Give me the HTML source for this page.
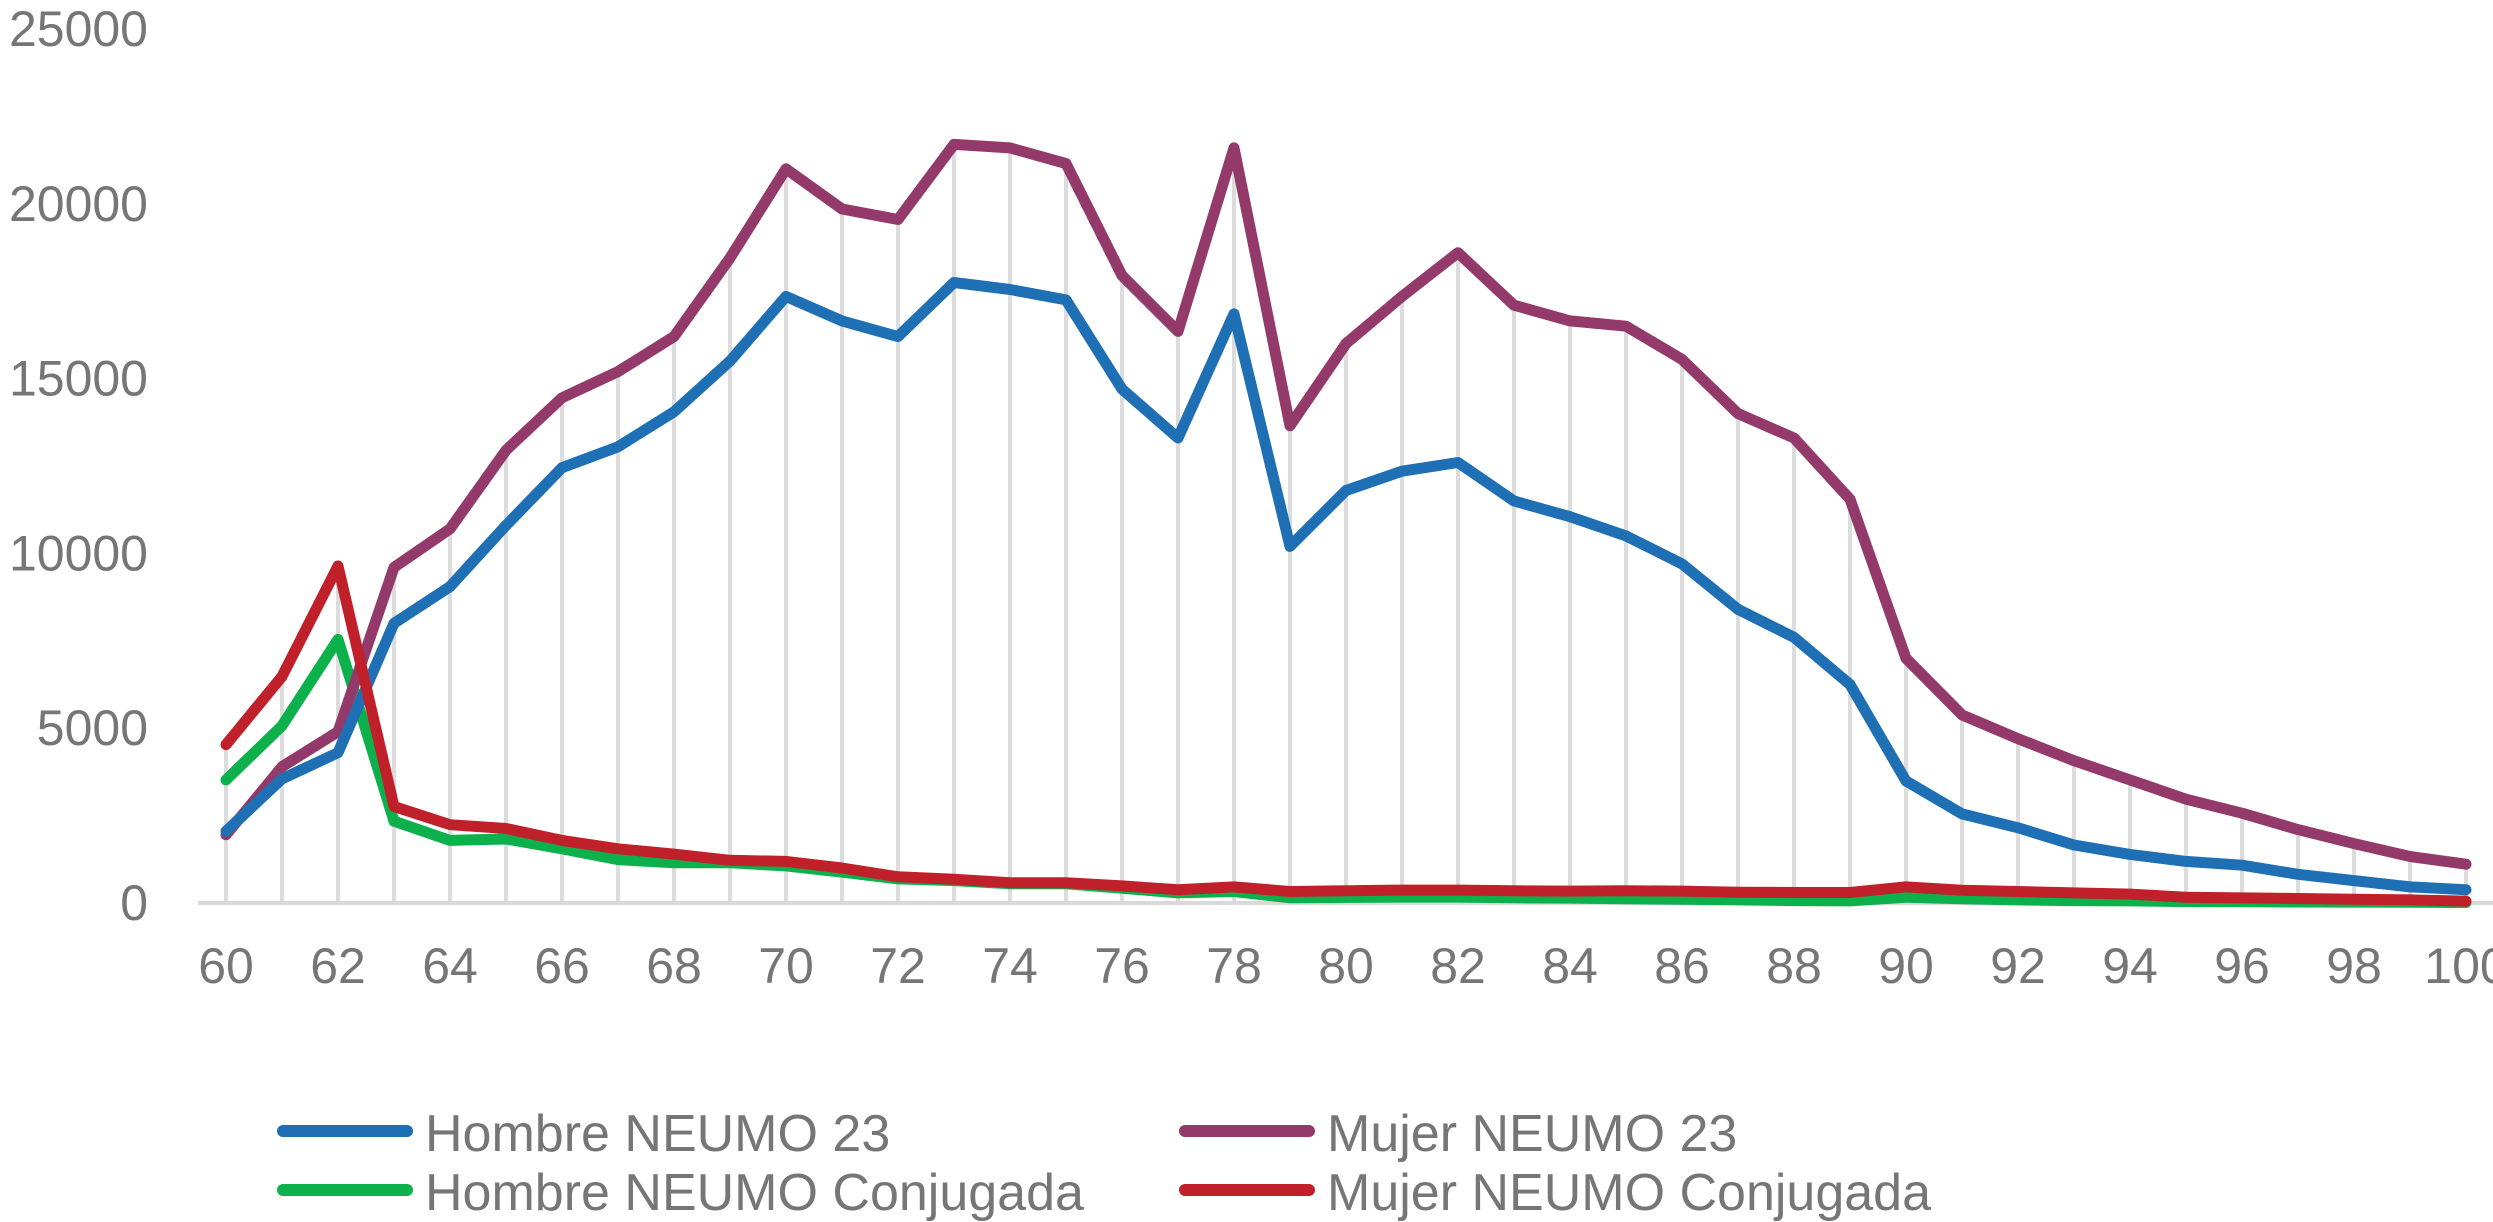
<!DOCTYPE html>
<html><head><meta charset="utf-8"><style>
html,body{margin:0;padding:0;background:#fff;}
svg{display:block;font-family:"Liberation Sans",Arial,sans-serif;}
</style></head><body>
<svg id="chart" width="2493" height="1222" viewBox="0 0 2493 1222" xmlns="http://www.w3.org/2000/svg">
<g id="grid"></g>
<g id="axes"></g>
<g id="series"></g>
<g id="legend"></g>
</svg>
<script>
const ages = [];
for (let a = 60; a <= 100; a++) ages.push(a);
const hombre23 = [2050,3550,4300,8000,9050,10800,12450,13050,14050,15500,17350,16650,16200,17750,17550,17250,14700,13300,16850,10200,11800,12350,12600,11500,11050,10500,9700,8400,7600,6250,3490,2550,2150,1660,1390,1190,1080,820,640,460,380];
const mujer23 = [1950,3900,4900,9600,10700,12950,14450,15200,16200,18450,21000,19850,19550,21700,21600,21150,17950,16350,21600,13650,16000,17350,18600,17100,16650,16500,15550,14000,13300,11550,7000,5380,4700,4070,3520,2970,2570,2100,1700,1330,1110];
const hombreConj = [3520,5070,7540,2340,1790,1830,1550,1240,1150,1150,1060,880,690,640,550,550,420,290,330,150,160,170,170,150,140,120,110,90,70,60,165,120,90,70,60,40,35,30,25,20,15];
const mujerConj = [4530,6480,9640,2760,2240,2130,1790,1550,1400,1220,1190,1000,750,680,580,580,490,380,460,330,350,370,370,350,340,350,340,310,300,300,460,365,330,290,255,165,145,130,110,90,55];
const yTicks = [0,5000,10000,15000,20000,25000];
const xTickLabels = [60,62,64,66,68,70,72,74,76,78,80,82,84,86,88,90,92,94,96,98,100];

const NS = "http://www.w3.org/2000/svg";
const X0 = 226, X1 = 2466, Y0 = 903, YTOP = 29;
const xS = a => X0 + (a - 60) / 40 * (X1 - X0);
const yS = v => Y0 - v / 25000 * (Y0 - YTOP);
function mk(tag, attrs, parent){const e=document.createElementNS(NS,tag);for(const k in attrs)e.setAttribute(k,attrs[k]);parent.appendChild(e);return e;}

const grid = document.getElementById('grid');
ages.forEach((a,i)=>{
  const top = Math.max(hombre23[i], mujer23[i], hombreConj[i], mujerConj[i]);
  const l = mk('line',{x1:xS(a),x2:xS(a),y1:Y0,y2:yS(top),stroke:'#dcdcdc','stroke-width':4},grid);
  
  
});
const axes = document.getElementById('axes');
const ax = mk('line',{x1:198,x2:2493,y1:Y0,y2:Y0,stroke:'#d9d9d9','stroke-width':4},axes);


yTicks.forEach(v=>{
  const t = mk('text',{x:148,y:yS(v)+17,'text-anchor':'end','font-size':50,fill:'#767676'},axes);
  t.textContent = v;
  
  
});
xTickLabels.forEach(a=>{
  const t = mk('text',{x:xS(a),y:983,'text-anchor':'middle','font-size':50,fill:'#767676'},axes);
  t.textContent = a;
  
  
});
const series = [
  {name:'Hombre NEUMO Conjugada', data:hombreConj, color:'#0db14b', key:'hombre-conjugada'},
  {name:'Mujer NEUMO 23', data:mujer23, color:'#933a6a', key:'mujer-23'},
  {name:'Hombre NEUMO 23', data:hombre23, color:'#1f6fb5', key:'hombre-23'},
  {name:'Mujer NEUMO Conjugada', data:mujerConj, color:'#c0202a', key:'mujer-conjugada'}
];
const sg = document.getElementById('series');
series.forEach(s=>{
  const d = s.data.map((v,i)=>(i?'L':'M')+xS(ages[i]).toFixed(1)+','+yS(v).toFixed(1)).join(' ');
  const p = mk('path',{d:d,fill:'none',stroke:s.color,'stroke-width':11,'stroke-linejoin':'round','stroke-linecap':'round'},sg);
  
  
});
const legendItems = [
  {name:'Hombre NEUMO 23', color:'#1f6fb5', x:283, y:1131},
  {name:'Mujer NEUMO 23', color:'#933a6a', x:1185, y:1131},
  {name:'Hombre NEUMO Conjugada', color:'#0db14b', x:283, y:1190},
  {name:'Mujer NEUMO Conjugada', color:'#c0202a', x:1185, y:1190}
];
const lg = document.getElementById('legend');
legendItems.forEach(it=>{
  const g = mk('g',{},lg);
  
  
  mk('line',{x1:it.x,x2:it.x+124,y1:it.y,y2:it.y,stroke:it.color,'stroke-width':12,'stroke-linecap':'round'},g);
  const t = mk('text',{x:it.x+142,y:it.y+20,'font-size':52,fill:'#767676'},g);
  t.textContent = it.name;
});
</script>
</body></html>
